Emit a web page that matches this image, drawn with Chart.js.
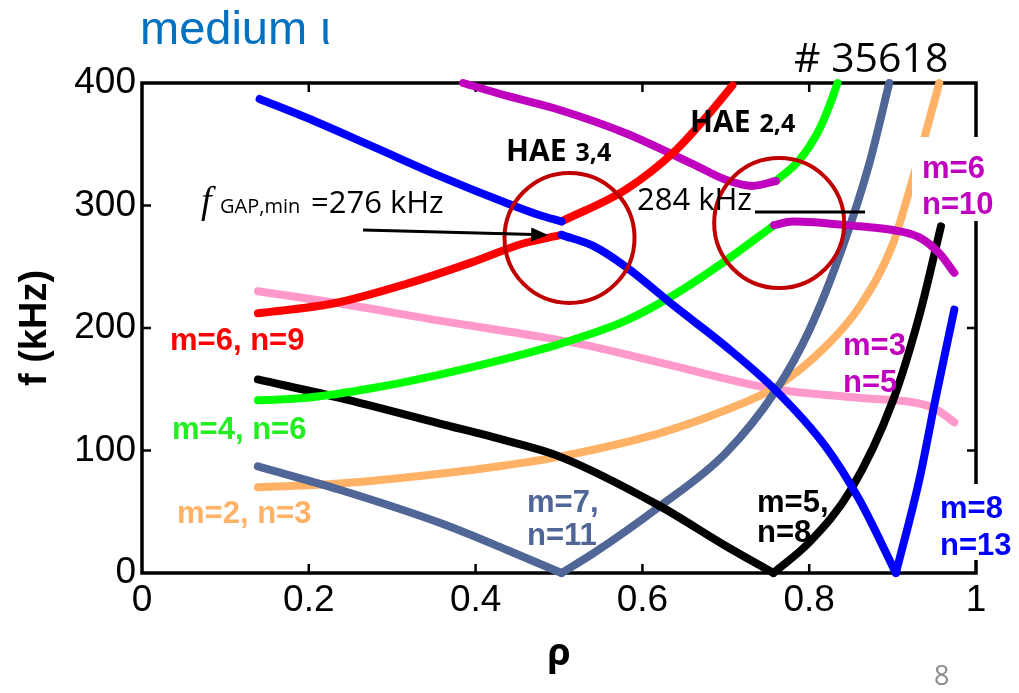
<!DOCTYPE html>
<html>
<head>
<meta charset="utf-8">
<script src="https://cdn.jsdelivr.net/npm/chart.js@4"></script>
<style>
  html, body { margin: 0; padding: 0; background: #fff; }
  #wrap { width: 1019px; height: 693px; position: relative; }
</style>
</head>
<body>
<div id="wrap"><canvas id="myChart"></canvas></div>
<script>
// axis ticks
const rhoTicks = [0, 0.2, 0.4, 0.6, 0.8, 1];
const fTicks = [0, 100, 200, 300, 400];

// m=8, n=13 (blue): upper branch up to the gap, lower branch, and the rising arm
const rhoBlueA = [0.141, 0.196, 0.277, 0.357, 0.437, 0.477, 0.503];
const fBlueA   = [387, 372, 348, 324, 302, 292, 287];
const rhoBlueB = [0.503, 0.541, 0.580, 0.640, 0.700, 0.760, 0.820, 0.860, 0.904];
const fBlueB   = [276, 267, 250, 217, 185, 149, 103, 60, 0];
const rhoBlueC = [0.904, 0.932, 0.952, 0.974];
const fBlueC   = [0, 76, 144, 215];

// m=6, n=9 (red)
const rhoRedA = [0.139, 0.229, 0.317, 0.397, 0.457, 0.503];
const fRedA   = [212, 220, 236, 254, 269, 276];
const rhoRedB = [0.503, 0.580, 0.640, 0.680, 0.708];
const fRedB   = [287, 313, 345, 375, 398];

// m=6, n=10 (magenta)
const rhoMagA = [0.385, 0.440, 0.501, 0.580, 0.660, 0.700, 0.732, 0.760];
const fMagA   = [400, 389, 378, 359, 334, 321, 316, 320];
const rhoMagB = [0.758, 0.780, 0.860, 0.900, 0.932, 0.956, 0.974];
const fMagB   = [284, 287, 283, 280, 274, 261, 245];

// m=4, n=6 (green)
const rhoGreenA = [0.139, 0.197, 0.277, 0.357, 0.437, 0.501, 0.580, 0.640, 0.700, 0.758];
const fGreenA   = [141, 143, 151, 162, 175, 187, 206, 228, 255, 284];
const rhoGreenB = [0.760, 0.788, 0.812, 0.824, 0.834];
const fGreenB   = [320, 337, 362, 381, 400];

// m=5, n=8 (black)
const rhoBlackA = [0.139, 0.237, 0.357, 0.437, 0.501, 0.620, 0.700, 0.757];
const fBlackA   = [158, 143, 122, 108, 95, 55, 22, 0];
const rhoBlackB = [0.757, 0.800, 0.850, 0.900, 0.932, 0.958];
const fBlackB   = [0, 25, 68, 140, 210, 283];

// m=7, n=11 (slate)
const rhoSlateA = [0.139, 0.237, 0.357, 0.437, 0.503];
const fSlateA   = [87, 68, 41, 19, 0];
const rhoSlateB = [0.503, 0.541, 0.620, 0.700, 0.760, 0.800, 0.840, 0.872, 0.896];
const fSlateB   = [0, 16, 54, 98, 149, 198, 266, 334, 400];

// m=2, n=3 (orange)
const rhoOrange = [0.139, 0.237, 0.357, 0.437, 0.501, 0.620, 0.700, 0.760, 0.820, 0.860, 0.900, 0.920, 0.938, 0.956];
const fOrange   = [70, 73, 81, 88, 95, 114, 133, 152, 185, 217, 268, 312, 355, 400];

// m=3, n=5 (pink)
const rhoPink = [0.139, 0.237, 0.357, 0.477, 0.525, 0.620, 0.760, 0.860, 0.940, 0.956, 0.974];
const fPink   = [230, 220, 206, 193, 187, 172, 150, 143, 137, 132, 123];

const BLUE = '#0000ff', RED = '#ff0000', MAG = '#bf00bf', GREEN = '#00ff00',
      BLACK = '#000000', SLATE = '#4f6696', ORANGE = '#ffb266', PINK = '#ff99cc';

function pts(xs, ys) {
    return xs.map((x, i) => ({x: x, y: ys[i]}));
}

function curve(label, xs, ys, color) {
    return {
        label: label,
        data: pts(xs, ys),
        borderColor: color,
        backgroundColor: color,
        borderWidth: 8,
        pointRadius: 0,
        showLine: true,
        cubicInterpolationMode: 'monotone',
        borderCapStyle: 'round',
        borderJoinStyle: 'round',
        clip: false
    };
}

// first dataset ends up on top
const datasets = [
    curve('m=8 n=13 a', rhoBlueA, fBlueA, BLUE),
    curve('m=8 n=13 b', rhoBlueB, fBlueB, BLUE),
    curve('m=8 n=13 c', rhoBlueC, fBlueC, BLUE),
    curve('m=6 n=9 a', rhoRedA, fRedA, RED),
    curve('m=6 n=9 b', rhoRedB, fRedB, RED),
    curve('m=6 n=10 a', rhoMagA, fMagA, MAG),
    curve('m=6 n=10 b', rhoMagB, fMagB, MAG),
    curve('m=4 n=6 a', rhoGreenA, fGreenA, GREEN),
    curve('m=4 n=6 b', rhoGreenB, fGreenB, GREEN),
    curve('m=5 n=8 a', rhoBlackA, fBlackA, BLACK),
    curve('m=5 n=8 b', rhoBlackB, fBlackB, BLACK),
    curve('m=7 n=11 a', rhoSlateA, fSlateA, SLATE),
    curve('m=7 n=11 b', rhoSlateB, fSlateB, SLATE),
    curve('m=2 n=3', rhoOrange, fOrange, ORANGE),
    curve('m=3 n=5', rhoPink, fPink, PINK)
];

function txt(ctx, s, x, y, font, color, align) {
    ctx.font = font;
    ctx.fillStyle = color;
    ctx.textAlign = align || 'left';
    ctx.textBaseline = 'alphabetic';
    ctx.fillText(s, x, y);
    return ctx.measureText(s).width;
}

// box frame with inward ticks, drawn under the curves
const framePlugin = {
    id: 'frame',
    beforeDatasetsDraw(chart) {
        const ctx = chart.ctx;
        const a = chart.chartArea;
        const xs = chart.scales.x, ys = chart.scales.y;
        ctx.save();
        ctx.strokeStyle = '#000';
        ctx.lineWidth = 3.5;
        ctx.strokeRect(a.left, a.top, a.right - a.left, a.bottom - a.top);
        ctx.lineWidth = 2.5;
        ctx.beginPath();
        rhoTicks.slice(1, -1).forEach(v => {
            const px = xs.getPixelForValue(v);
            ctx.moveTo(px, a.bottom); ctx.lineTo(px, a.bottom - 9);
            ctx.moveTo(px, a.top); ctx.lineTo(px, a.top + 9);
        });
        fTicks.slice(1, -1).forEach(v => {
            const py = ys.getPixelForValue(v);
            ctx.moveTo(a.left, py); ctx.lineTo(a.left + 9, py);
            ctx.moveTo(a.right, py); ctx.lineTo(a.right - 9, py);
        });
        ctx.stroke();
        ctx.restore();
    }
};

// circles, arrow, mode labels and other texts
const notesPlugin = {
    id: 'notes',
    afterDraw(chart) {
        const ctx = chart.ctx;
        const xs = chart.scales.x, ys = chart.scales.y;
        ctx.save();

        // gap circles
        ctx.strokeStyle = '#c00000';
        ctx.lineWidth = 4;
        [[0.5126, 273.5], [0.764, 285.7]].forEach(c => {
            ctx.beginPath();
            ctx.arc(xs.getPixelForValue(c[0]), ys.getPixelForValue(c[1]), 65, 0, Math.PI * 2);
            ctx.stroke();
        });

        // arrow to the lower gap edge
        const x0 = xs.getPixelForValue(0.265), y0 = ys.getPixelForValue(280);
        const x1 = xs.getPixelForValue(0.487), y1 = ys.getPixelForValue(276);
        const ang = Math.atan2(y1 - y0, x1 - x0);
        ctx.strokeStyle = '#000';
        ctx.fillStyle = '#000';
        ctx.lineWidth = 3;
        ctx.beginPath();
        ctx.moveTo(x0, y0);
        ctx.lineTo(x1 - 14 * Math.cos(ang), y1 - 14 * Math.sin(ang));
        ctx.stroke();
        ctx.beginPath();
        ctx.moveTo(x1, y1);
        ctx.lineTo(x1 - 17 * Math.cos(ang) + 7 * Math.sin(ang), y1 - 17 * Math.sin(ang) - 7 * Math.cos(ang));
        ctx.lineTo(x1 - 17 * Math.cos(ang) - 7 * Math.sin(ang), y1 - 17 * Math.sin(ang) + 7 * Math.cos(ang));
        ctx.closePath();
        ctx.fill();

        // line under "284 kHz"
        ctx.lineWidth = 3;
        ctx.beginPath();
        ctx.moveTo(755, 212);
        ctx.lineTo(865, 212);
        ctx.stroke();

        // white boxes of the right-hand labels hide the frame
        ctx.fillStyle = '#fff';
        ctx.fillRect(912, 137, 90, 84);
        ctx.fillRect(936, 484, 80, 76);

        const OS = '"Open Sans", sans-serif';
        const LB = 'bold 31px "Liberation Sans", Arial, sans-serif';

        txt(ctx, 'medium \u03b9', 140, 44, '47px "Liberation Sans", Arial, sans-serif', '#0070c0');
        txt(ctx, '# 35618', 794, 72, '41px ' + OS, '#000');
        txt(ctx, '8', 934, 685, '27px ' + OS, '#8c8c8c');

        let w = txt(ctx, 'HAE', 506, 161, 'bold 30px ' + OS, '#000');
        txt(ctx, '3,4', 506 + w + 9, 161, 'bold 25px ' + OS, '#000');
        w = txt(ctx, 'HAE', 690, 132, 'bold 30px ' + OS, '#000');
        txt(ctx, '2,4', 690 + w + 9, 132, 'bold 25px ' + OS, '#000');

        txt(ctx, 'f', 201, 213, 'italic 38px "Liberation Serif", serif', '#000');
        txt(ctx, 'GAP,min', 220, 213, '20px ' + OS, '#000');
        txt(ctx, '=276 kHz', 311, 213, '31px ' + OS, '#000');
        txt(ctx, '284 kHz', 637, 210, '31px ' + OS, '#000');

        txt(ctx, 'm=6, n=9', 170, 350, LB, RED);
        txt(ctx, 'm=4, n=6', 172, 439, LB, '#22ee22');
        txt(ctx, 'm=2, n=3', 177, 523, LB, ORANGE);
        txt(ctx, 'm=7,', 527, 512, LB, SLATE);
        txt(ctx, 'n=11', 527, 545, LB, SLATE);
        txt(ctx, 'm=5,', 757, 512, LB, BLACK);
        txt(ctx, 'n=8', 757, 542, LB, BLACK);
        txt(ctx, 'm=8', 940, 518, LB, BLUE);
        txt(ctx, 'n=13', 940, 555, LB, BLUE);
        txt(ctx, 'm=3', 843, 355, LB, MAG);
        txt(ctx, 'n=5', 843, 392, LB, MAG);
        txt(ctx, 'm=6', 922, 178, LB, MAG);
        txt(ctx, 'n=10', 922, 214, LB, MAG);

        ctx.restore();
    }
};

function makeChart() {
    const ctx = document.getElementById('myChart');
    const tickFont = {family: '"Liberation Sans", Arial, sans-serif', size: 37};

    const configuration = {
        type: 'scatter',
        data: {datasets: datasets},
        options: {
            responsive: true,
            maintainAspectRatio: false,
            animation: false,
            layout: {
                padding: {left: 0, top: 83, right: 43, bottom: 0}
            },
            plugins: {
                legend: {display: false},
                tooltip: {enabled: false}
            },
            scales: {
                x: {
                    type: 'linear',
                    min: 0,
                    max: 1,
                    afterBuildTicks: s => { s.ticks = rhoTicks.map(v => ({value: v})); },
                    afterFit: s => { s.height = 120; },
                    ticks: {
                        color: '#000',
                        font: tickFont,
                        padding: 6,
                        maxRotation: 0,
                        autoSkip: false,
                        callback: v => String(Number(v.toFixed(1)))
                    },
                    grid: {display: false, drawTicks: false},
                    border: {display: false},
                    title: {
                        display: true,
                        text: '\u03c1',
                        color: '#000',
                        font: {family: '"Open Sans", sans-serif', size: 38, weight: 'bold'},
                        padding: {top: 0, bottom: 16}
                    }
                },
                y: {
                    min: 0,
                    max: 400,
                    afterBuildTicks: s => { s.ticks = fTicks.map(v => ({value: v})); },
                    afterFit: s => { s.width = 142; },
                    ticks: {
                        color: '#000',
                        font: tickFont,
                        padding: 6
                    },
                    grid: {display: false, drawTicks: false},
                    border: {display: false},
                    title: {
                        display: true,
                        text: 'f (kHz)',
                        color: '#000',
                        font: {family: '"Liberation Sans", Arial, sans-serif', size: 38, weight: 'bold'},
                        padding: {top: 13, bottom: 0}
                    }
                }
            }
        },
        plugins: [framePlugin, notesPlugin]
    };

    new Chart(ctx, configuration);
}

window.onload = function(){
    makeChart();
}
</script>
</body>
</html>
